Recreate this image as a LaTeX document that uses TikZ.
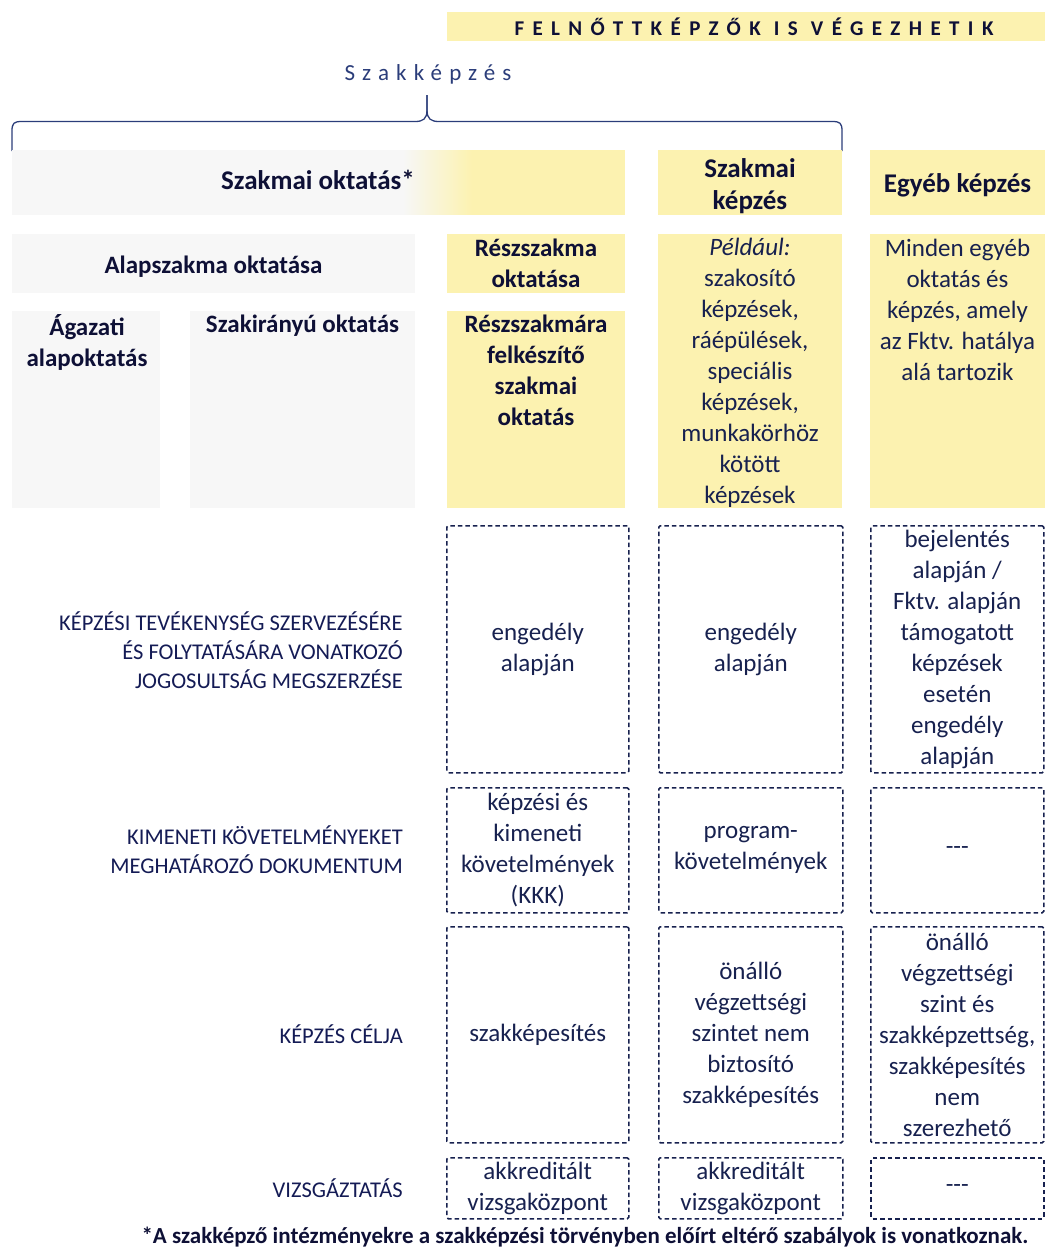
\documentclass[tikz,border=0pt]{standalone}
\usepackage{fontspec}
\setmainfont{Carlito}
\usetikzlibrary{positioning}
\definecolor{ylw}{HTML}{FCF2B0}
\definecolor{gry}{HTML}{F7F7F7}
\definecolor{boldtxt}{HTML}{0E1036}
\definecolor{regtxt}{HTML}{17214F}
\definecolor{lbltxt}{HTML}{141B55}
\definecolor{brc}{HTML}{2B3D7A}
\tikzset{
  fbox/.style={rectangle, inner sep=0pt, outer sep=0pt, anchor=north west, draw=none},
  yel/.style={fbox, fill=ylw},
  gre/.style={fbox, fill=gry},
  hdr/.style={font=\fontsize{27}{32}\selectfont\bfseries, text=boldtxt, align=center},
  btxt/.style={font=\fontsize{25}{31}\selectfont\bfseries, text=boldtxt, align=center},
  rtxt/.style={font=\fontsize{25}{31}\selectfont, text=regtxt, align=center},
  lbl/.style={font=\fontsize{22.5}{29}\selectfont, text=lbltxt, align=right, anchor=east, inner sep=0pt},
  dbox/.style={rectangle, anchor=north west, draw=regtxt, line width=1.5pt, dash pattern=on 4.5pt off 3pt, rounded corners=1.5pt, inner sep=0pt, font=\fontsize{25}{31}\selectfont, text=regtxt, align=center},
}
\begin{document}
\begin{tikzpicture}[x=1pt,y=-1pt]
\useasboundingbox (0,0) rectangle (1045,1248);
% title band
\node[yel, minimum width=598pt, minimum height=29pt] (titleband) at (447,12) {};
\node[font=\fontsize{21}{25}\selectfont\bfseries\addfontfeature{LetterSpace=40}, text=boldtxt] (title) at (754,27) {FELNŐTTKÉPZŐK IS VÉGEZHETIK};
% Szakkepzes
\node[font=\fontsize{23}{27}\selectfont\addfontfeature{LetterSpace=31}, text=brc] (szk) at (428,74) {Szakképzés};
% brace
\coordinate (btip) at (427,95);
\draw[brc, line width=1.3pt] (12,151) -- (12,131) .. controls (12,123) and (14,121.5) .. (22,121.5) -- (415,121.5) .. controls (423,121.5) and (427,119) .. (427,110) -- (btip);
\draw[brc, line width=1.3pt] (btip) -- (427,110) .. controls (427,119) and (431,121.5) .. (439,121.5) -- (832,121.5) .. controls (840,121.5) and (842,123) .. (842,131) -- (842,151);
% Szakmai oktatas gradient box
\fill[gry] (12,150) rectangle (404,215);
\foreach \i in {0,...,69}{
  \pgfmathsetmacro{\pc}{100-\i*100/69}
  \fill[gry!\pc!ylw] (403+\i,150) rectangle (405+\i,215);
}
\fill[ylw] (473,150) rectangle (625,215);
\node[fbox, minimum width=613pt, minimum height=65pt] (so) at (12,150) {};
\node[hdr] (sotxt) at (318,180) {Szakmai oktatás*};
% header boxes
\node[yel, minimum width=184pt, minimum height=65pt] (skep) at (658,150) {};
\node[hdr] at ([yshift=-4pt]skep.center) {Szakmai\\képzés};
\node[yel, minimum width=175pt, minimum height=65pt] (egyeb) at (870,150) {};
\node[hdr] at ([yshift=-3pt]egyeb.center) {Egyéb képzés};
% second row
\node[gre, minimum width=403pt, minimum height=59pt] (alap) at (12,234) {};
\node[btxt] at ([yshift=-3pt]alap.center) {Alapszakma oktatása};
\node[yel, minimum width=178pt, minimum height=59pt] (resz) at (447,234) {};
\node[btxt] at (resz.center) {Részszakma\\oktatása};
\node[yel, minimum width=184pt, minimum height=274pt] (pelda) at (658,234) {};
\node[rtxt] at ([yshift=-2pt]pelda.center) {\textit{Például:}\\szakosító\\képzések,\\ráépülések,\\speciális\\képzések,\\munkakörhöz\\kötött\\képzések};
\node[yel, minimum width=175pt, minimum height=274pt] (minden) at (870,234) {};
\node[rtxt, anchor=north] at ([yshift=-2pt]minden.north) {Minden egyéb\\oktatás és\\képzés, amely\\az Fktv. hatálya\\alá tartozik};
% third row
\node[gre, minimum width=148pt, minimum height=197pt] (agaz) at (12,311) {};
\node[btxt, anchor=north] at ([xshift=1pt]agaz.north) {Ágazati\\alapoktatás};
\node[gre, minimum width=225pt, minimum height=197pt] (szakir) at (190,311) {};
\node[btxt, anchor=north] at (szakir.north) {Szakirányú oktatás};
\node[yel, minimum width=178pt, minimum height=197pt] (reszf) at (447,311) {};
\node[btxt, anchor=north] at (reszf.north) {Részszakmára\\felkészítő\\szakmai\\oktatás};
% row labels
\node[lbl] (l1) at (403,650) {KÉPZÉSI TEVÉKENYSÉG SZERVEZÉSÉRE\\ÉS FOLYTATÁSÁRA VONATKOZÓ\\JOGOSULTSÁG MEGSZERZÉSE};
\node[lbl] (l2) at (403,850) {KIMENETI KÖVETELMÉNYEKET\\MEGHATÁROZÓ DOKUMENTUM};
\node[lbl] (l3) at (403,1034) {KÉPZÉS CÉLJA};
\node[lbl] (l4) at (403,1188) {VIZSGÁZTATÁS};
% dashed row 1
\node[dbox, minimum width=182pt, minimum height=247pt] (a1) at (446,525) {engedély\\alapján};
\node[dbox, minimum width=184pt, minimum height=247pt] (b1) at (658,525) {engedély\\alapján};
\node[dbox, minimum width=173pt, minimum height=247pt] (c1) at (870,525) {bejelentés\\alapján /\\Fktv. alapján\\támogatott\\képzések\\esetén\\engedély\\alapján};
% dashed row 2
\node[dbox, minimum width=182pt, minimum height=125pt] (a2) at (446,787) {képzési és\\kimeneti\\követelmények\\(KKK)};
\node[dbox, minimum width=184pt, minimum height=125pt] (b2) at (658,787) {program-\\követelmények};
\node[dbox, minimum width=173pt, minimum height=125pt] (c2) at (870,787) {{-}{-}{-}};
% dashed row 3
\node[dbox, minimum width=182pt, minimum height=216pt] (a3) at (446,926) {szakképesítés};
\node[dbox, minimum width=184pt, minimum height=216pt] (b3) at (658,926) {önálló\\végzettségi\\szintet nem\\biztosító\\szakképesítés};
\node[dbox, minimum width=173pt, minimum height=216pt] (c3) at (870,926) {önálló\\végzettségi\\szint és\\szakképzettség,\\szakképesítés\\nem\\szerezhető};
% dashed row 4
\node[dbox, minimum width=182pt, minimum height=61pt] (a4) at (446,1157) {akkreditált\\vizsgaközpont};
\node[dbox, minimum width=184pt, minimum height=61pt] (b4) at (658,1157) {akkreditált\\vizsgaközpont};
\node[dbox, minimum width=173pt, minimum height=61pt] (c4) at (870,1157) {{-}{-}{-}};
% footnote
\node[font=\fontsize{23}{27}\selectfont\bfseries, text=boldtxt] (foot) at (585,1237) {*A szakképző intézményekre a szakképzési törvényben előírt eltérő szabályok is vonatkoznak.};
\end{tikzpicture}
\end{document}
